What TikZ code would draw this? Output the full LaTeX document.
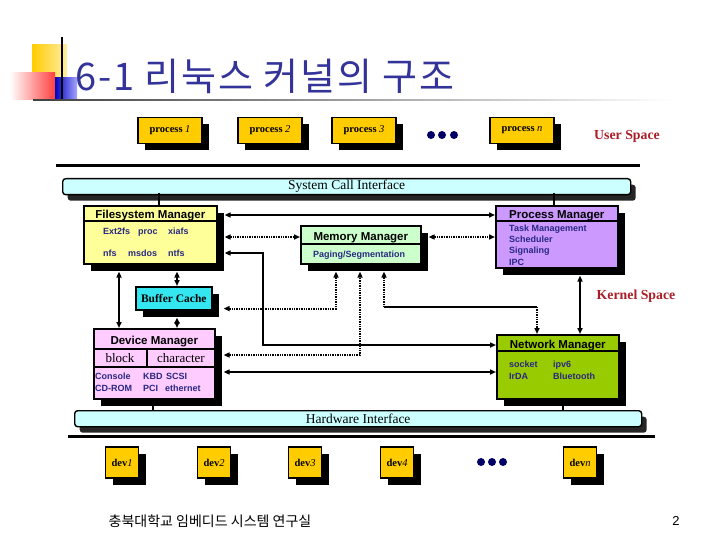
\documentclass[tikz,border=0pt]{standalone}
\usepackage{fontspec}
\setmainfont{Liberation Serif}
\setsansfont{Liberation Sans}
\newfontfamily\krfont{Noto Sans CJK KR}
\newfontfamily\krtitle{Noto Sans CJK KR}[LetterSpace=5]
\usepackage{xcolor}
\usetikzlibrary{arrows.meta, positioning, calc, shadows}

\definecolor{titleblue}{RGB}{51,51,153}
\definecolor{procgold}{RGB}{255,204,0}
\definecolor{barcyan}{RGB}{204,255,255}
\definecolor{fsyellow}{RGB}{255,255,153}
\definecolor{mmgreen}{RGB}{204,255,204}
\definecolor{pmpurple}{RGB}{204,153,255}
\definecolor{bccyan}{RGB}{51,230,240}
\definecolor{dmpink}{RGB}{255,204,255}
\definecolor{nmgreen}{RGB}{153,204,0}
\definecolor{itemblue}{RGB}{40,40,130}
\definecolor{spacered}{RGB}{170,30,40}
\definecolor{dotnavy}{RGB}{0,0,102}

\begin{document}
\begin{tikzpicture}[
    x=1pt, y=-1pt,
    box/.style={rectangle, draw=black, line width=1.6pt, inner sep=0pt, anchor=north west,
        drop shadow={shadow xshift=7pt, shadow yshift=-7pt, fill=black, opacity=1}},
    procbox/.style={box, anchor=center, fill=procgold, minimum width=64pt, minimum height=26pt, font=\fontsize{10.5}{12}\selectfont},
    devbox/.style={procbox, minimum width=33pt, minimum height=31pt},
    bar/.style={rectangle, rounded corners=3pt, draw=black, line width=1.4pt, fill=barcyan, inner sep=0pt, anchor=north west,
        minimum height=16pt, font=\fontsize{13.5}{14}\selectfont,
        drop shadow={shadow xshift=5pt, shadow yshift=-6pt, fill=black!85, opacity=1}},
    head/.style={inner sep=0pt, anchor=base, font=\sffamily\bfseries\fontsize{11.5}{13}\selectfont},
    item/.style={inner sep=0pt, anchor=base west, text=itemblue, font=\sffamily\bfseries\fontsize{9}{10}\selectfont},
    space/.style={text=spacered, font=\bfseries\fontsize{13.8}{15}\selectfont},
    wire/.style={line width=1.8pt},
    arr/.style={wire, {Triangle[length=6pt,width=5pt]}-{Triangle[length=6pt,width=5pt]}},
    dotarr/.style={arr, dash pattern=on 1.4pt off 1pt}
]
\useasboundingbox (0,0) rectangle (720,540);
\fill[white] (0,0) rectangle (720,540);

% title
\shade[left color=procgold, right color=procgold!35] (32,45) rectangle (67,80);
\shade[left color=white, right color=red!75] (10,73) rectangle (55,100);
\shade[left color=blue!75!black, right color=blue!35] (55,78) rectangle (77,100);
\draw[line width=1.6pt] (62,37) -- (62,100);
\shade[left color=black!75, right color=white] (33,99.2) rectangle (673,100.8);
\node[anchor=base west, inner sep=0pt, text=titleblue, font=\krtitle\fontsize{38}{40}\selectfont] (title) at (75,91) {6-1 리눅스 커널의 구조};

% user space
\node[procbox] (p1) at (170,130.5) {{\bfseries process} \textit{1}};
\node[procbox] (p2) at (270,130.5) {{\bfseries process} \textit{2}};
\node[procbox] (p3) at (364,130.5) {{\bfseries process} \textit{3}};
\node[procbox] (pn) at (522,130.5) {{\bfseries process} \textit{n}};
\foreach \x in {431,442,454} \fill[dotnavy] (\x,135) circle (4pt);
\node[space] (user) at (627,136) {User Space};
\draw[line width=3pt] (56,166) -- (640,166);

\node[bar, minimum width=568pt] (sci) at (62,178) {System Call Interface};

% kernel blocks
\node[box, fill=fsyellow, minimum width=133pt, minimum height=58pt] (fs) at (83,205) {};
\draw[line width=1.6pt] ([yshift=-16pt]fs.north west) -- ([yshift=-16pt]fs.north east);
\node[head] (fshead) at ($(fs.north)+(0,13.5)$) {Filesystem Manager};
\node[item] (ext) at (103,235) {Ext2fs};
\node[item] (proc) at (138,235) {proc};
\node[item] (xia) at (168,235) {xiafs};
\node[item] (nfs) at (103,256) {nfs};
\node[item] (msdos) at (128,256) {msdos};
\node[item] (ntfs) at (168,256) {ntfs};

\node[box, fill=mmgreen, minimum width=120pt, minimum height=38pt] (mm) at (300,225) {};
\draw[line width=1.6pt] ([yshift=-19pt]mm.north west) -- ([yshift=-19pt]mm.north east);
\node[head] (mmhead) at ($(mm.north)+(0,15.5)$) {Memory Manager};
\node[item, anchor=base] (paging) at (359,257) {Paging/Segmentation};

\node[box, fill=pmpurple, minimum width=122pt, minimum height=62pt] (pm) at (495,205) {};
\draw[line width=1.6pt] ([yshift=-16pt]pm.north west) -- ([yshift=-16pt]pm.north east);
\node[head] (pmhead) at ($(pm.north)+(0,13.5)$) {Process Manager};
\node[item] (task) at (509,231) {Task Management};
\node[item] (sched) at (509,242) {Scheduler};
\node[item] (sig) at (509,254) {Signaling};
\node[item] (ipc) at (509,265) {IPC};

\node[box, fill=bccyan, minimum width=76pt, minimum height=23pt] (bc) at (135,286) {};
\node[font=\bfseries\fontsize{11.5}{13}\selectfont] (bctext) at (bc.center) {Buffer Cache};
\node[space] (kernel) at (636,296) {Kernel Space};

\node[box, fill=dmpink, minimum width=121pt, minimum height=70pt] (dm) at (93,328) {};
\draw[line width=1.6pt] ([yshift=-21pt]dm.north west) -- ([yshift=-21pt]dm.north east);
\draw[line width=1.6pt] ([yshift=-39pt]dm.north west) -- ([yshift=-39pt]dm.north east);
\draw[line width=1.6pt] ([xshift=54pt,yshift=-21pt]dm.north west) -- ([xshift=54pt,yshift=-39pt]dm.north west);
\node[head] (dmhead) at ($(dm.north)+(0,16)$) {Device Manager};
\node[anchor=base, inner sep=0pt, font=\fontsize{13}{14}\selectfont] (blk) at (120,362) {block};
\node[anchor=base, inner sep=0pt, font=\fontsize{13}{14}\selectfont] (chr) at (181,362) {character};
\node[item] (cons) at (95,379) {Console};
\node[item] (kbd) at (143,379) {KBD};
\node[item] (scsi) at (166,379) {SCSI};
\node[item] (cdrom) at (95,391) {CD-ROM};
\node[item] (pci) at (143,391) {PCI};
\node[item] (eth) at (165,391) {ethernet};

\node[box, fill=nmgreen, minimum width=122pt, minimum height=64pt] (nm) at (496,334) {};
\draw[line width=1.6pt] ([yshift=-17pt]nm.north west) -- ([yshift=-17pt]nm.north east);
\node[head] (nmhead) at ($(nm.north)+(0,14)$) {Network Manager};
\node[item] (sock) at (509,367) {socket};
\node[item] (ipv) at (553,367) {ipv6};
\node[item] (irda) at (509,379) {IrDA};
\node[item] (blue) at (553,379) {Bluetooth};

% connectors
\draw[wire] ($(fs.north west)+(76,0)$) -- ++(0,-12);
\draw[wire] ($(pm.north west)+(59,0)$) -- ++(0,-12);
\draw[arr] ($(fs.north east)+(7,10)$) -- ($(pm.north west)+(0,10)$);
\draw[dotarr] ($(fs.north east)+(7,32)$) -- ($(mm.north west)+(0,12)$);
\draw[dotarr] ($(mm.north east)+(7,12)$) -- ($(pm.north west)+(0,32)$);
\coordinate (fsnm) at (263,345);
\draw[arr] ($(fs.north east)+(7,48)$) -| (fsnm) -- (fsnm -| nm.west);
\draw[arr] ($(fs.south west)+(36,7)$) -- ($(dm.north west)+(26,0)$);
\draw[arr] ($(fs.south west)+(94,7)$) -- ($(bc.north west)+(42,0)$);
\draw[arr] ($(bc.south west)+(42,7)$) -- ($(dm.north west)+(84,0)$);
\draw[dotarr] ($(bc.south east)+(11,-2)$) -| ($(mm.south west)+(36,7)$);
\draw[dotarr] ($(dm.north east)+(8,27)$) -| ($(mm.south west)+(60,7)$);
\coordinate (mmnmA) at (384,307);
\coordinate (mmnmB) at (537,307);
\draw[wire, dash pattern=on 1.4pt off 1pt, {Triangle[length=6pt,width=5pt]}-] ($(mm.south west)+(84,7)$) -- (mmnmA);
\draw[wire] (mmnmA) -- (mmnmB);
\draw[wire, dash pattern=on 1.4pt off 1pt, -{Triangle[length=6pt,width=5pt]}] (mmnmB) -- (mmnmB |- nm.north);
\draw[arr] ($(pm.south west)+(85,7)$) -- ($(nm.north west)+(84,0)$);
\draw[arr] ($(dm.north east)+(8,44)$) -- ($(nm.north west)+(0,38)$);

% hardware
\node[bar, minimum width=567pt] (hw) at (74,410) {Hardware Interface};
\coordinate (dmhw) at ($(dm.south west)+(60,0)$);
\coordinate (nmhw) at ($(nm.south west)+(67,0)$);
\draw[wire] (dmhw) -- (dmhw |- hw.north);
\draw[wire] (nmhw) -- (nmhw |- hw.north);
\draw[line width=3pt] (68,436) -- (655,436);

\node[devbox] (d1) at (122,462.5) {{\bfseries dev}\textit{1}};
\node[devbox] (d2) at (214,462.5) {{\bfseries dev}\textit{2}};
\node[devbox] (d3) at (305,462.5) {{\bfseries dev}\textit{3}};
\node[devbox] (d4) at (397,462.5) {{\bfseries dev}\textit{4}};
\node[devbox] (dn) at (580,462.5) {{\bfseries dev}\textit{n}};
\foreach \x in {481,492,503} \fill[dotnavy] (\x,462) circle (4pt);

% footer
\node[font=\krfont\fontsize{14}{16}\selectfont] (lab) at (210,521) {충북대학교 임베디드 시스템 연구실};
\node[font=\sffamily\fontsize{13}{15}\selectfont] (page) at (676,521) {2};

\end{tikzpicture}
\end{document}
